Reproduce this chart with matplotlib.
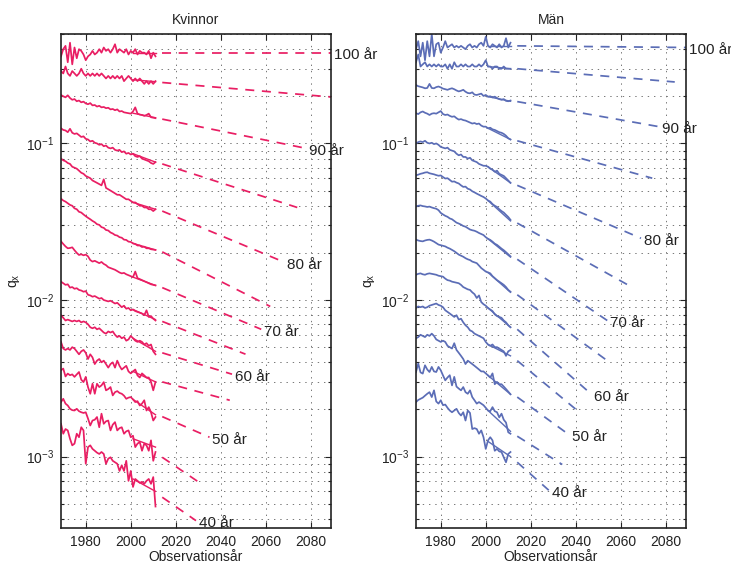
import matplotlib.pyplot as plt
import numpy as np
from matplotlib.ticker import LogLocator, NullFormatter

plt.rcParams['font.family'] = ['Liberation Sans', 'DejaVu Sans']
plt.rcParams['mathtext.default'] = 'regular'
plt.rcParams['lines.scale_dashes'] = False

# observation years
years = np.arange(1969, 2012)
ages = [40, 45, 50, 55, 60, 65, 70, 75, 80, 85, 90, 95, 100]

# ---- Kvinnor: observed q_x per age, 1969-2011 ----
kv40 = [0.00162, 0.00140, 0.00150, 0.00147, 0.00130, 0.00118, 0.00121, 0.00140, 0.00133, 0.00154,
        0.00147, 0.00090, 0.00115, 0.00118, 0.00112, 0.00109, 0.00106, 0.00104, 0.00107, 0.00104,
        0.00090, 0.00097, 0.00099, 0.00094, 0.00092, 0.00090, 0.00081, 0.00088, 0.00081, 0.00094,
        0.00070, 0.00081, 0.00064, 0.00072, 0.00070, 0.00068, 0.00069, 0.00067, 0.00070, 0.00072,
        0.00067, 0.00074, 0.00048]
kv45 = [0.00223, 0.00234, 0.00218, 0.00212, 0.00202, 0.00198, 0.00197, 0.00202, 0.00195, 0.00192,
        0.00190, 0.00192, 0.00175, 0.00158, 0.00170, 0.00172, 0.00179, 0.00154, 0.00188, 0.00162,
        0.00168, 0.00170, 0.00147, 0.00160, 0.00166, 0.00147, 0.00152, 0.00154, 0.00140, 0.00145,
        0.00147, 0.00133, 0.00136, 0.00115, 0.00121, 0.00124, 0.00109, 0.00121, 0.00118, 0.00109,
        0.00127, 0.00094, 0.00107]
kv50 = [0.00356, 0.00365, 0.00325, 0.00339, 0.00331, 0.00335, 0.00323, 0.00335, 0.00347, 0.00310,
        0.00299, 0.00323, 0.00278, 0.00252, 0.00292, 0.00252, 0.00292, 0.00278, 0.00285, 0.00299,
        0.00265, 0.00270, 0.00278, 0.00246, 0.00258, 0.00262, 0.00255, 0.00252, 0.00245, 0.00234,
        0.00238, 0.00240, 0.00232, 0.00223, 0.00226, 0.00212, 0.00218, 0.00229, 0.00197, 0.00207,
        0.00192, 0.00170, 0.00179]
kv55 = [0.0054, 0.0049, 0.0048, 0.0049, 0.0048, 0.0050, 0.0049, 0.0047, 0.0045, 0.0047,
        0.0048, 0.0046, 0.0042, 0.0045, 0.0043, 0.0039, 0.0041, 0.0042, 0.0040, 0.0041,
        0.0039, 0.0037, 0.0039, 0.0040, 0.0037, 0.0041, 0.0038, 0.0036, 0.0037, 0.0038,
        0.0035, 0.0034, 0.0035, 0.0036, 0.0033, 0.0032, 0.0034, 0.0033, 0.0032, 0.0032,
        0.0030, 0.00265, 0.0030]
kv60 = [0.0080, 0.0077, 0.0074, 0.0075, 0.0074, 0.0073, 0.0074, 0.0073, 0.0074, 0.0072,
        0.0073, 0.0072, 0.0070, 0.0067, 0.0066, 0.0067, 0.0065, 0.0066, 0.0064, 0.0062,
        0.0061, 0.0063, 0.0062, 0.0063, 0.0060, 0.0058, 0.0059, 0.0057, 0.0058, 0.0055,
        0.0056, 0.0059, 0.0057, 0.0055, 0.0054, 0.0055, 0.0054, 0.0052, 0.0053, 0.0051,
        0.0052, 0.0047, 0.0045]
kv65 = [0.0131, 0.0128, 0.0125, 0.0126, 0.0120, 0.0121, 0.0118, 0.0119, 0.0116, 0.0115,
        0.0113, 0.0114, 0.0108, 0.0107, 0.0105, 0.0106, 0.0104, 0.0102, 0.0103, 0.0100,
        0.0099, 0.0098, 0.0099, 0.0097, 0.0095, 0.0096, 0.0093, 0.0090, 0.0092, 0.0088,
        0.0089, 0.0086, 0.0087, 0.0085, 0.0084, 0.0083, 0.0082, 0.0080, 0.0086, 0.0078,
        0.0079, 0.0076, 0.0074]
kv70 = [0.0237, 0.0228, 0.0220, 0.0214, 0.0215, 0.0217, 0.0208, 0.0200, 0.0194, 0.0196,
        0.0193, 0.0195, 0.0190, 0.0180, 0.0176, 0.0178, 0.0175, 0.0172, 0.0175, 0.0170,
        0.0167, 0.0162, 0.0160, 0.0158, 0.0156, 0.0153, 0.0150, 0.0148, 0.0149, 0.0146,
        0.0144, 0.0142, 0.0140, 0.0152, 0.0138, 0.0136, 0.0134, 0.0132, 0.0130, 0.0128,
        0.0126, 0.0125, 0.0124]
kv75 = [0.0444, 0.0432, 0.0425, 0.0415, 0.0405, 0.0400, 0.0385, 0.0380, 0.0366, 0.0362,
        0.0352, 0.0343, 0.0335, 0.0328, 0.0320, 0.0314, 0.0305, 0.0302, 0.0292, 0.0289,
        0.0280, 0.0278, 0.0270, 0.0266, 0.0260, 0.0258, 0.0252, 0.0250, 0.0243, 0.0242,
        0.0236, 0.0235, 0.0230, 0.0228, 0.0223, 0.0223, 0.0218, 0.0219, 0.0214, 0.0214,
        0.0211, 0.0210, 0.0209]
kv80 = [0.080, 0.078, 0.077, 0.075, 0.074, 0.071, 0.070, 0.069, 0.067, 0.065,
        0.064, 0.062, 0.061, 0.060, 0.058, 0.057, 0.056, 0.055, 0.054, 0.059,
        0.052, 0.051, 0.050, 0.049, 0.048, 0.047, 0.047, 0.046, 0.045, 0.044,
        0.044, 0.043, 0.042, 0.042, 0.041, 0.040, 0.040, 0.039, 0.039, 0.038,
        0.038, 0.037, 0.038]
kv85 = [0.125, 0.122, 0.121, 0.118, 0.124, 0.117, 0.115, 0.116, 0.113, 0.110,
        0.111, 0.107, 0.106, 0.103, 0.104, 0.101, 0.100, 0.098, 0.099, 0.096,
        0.097, 0.094, 0.093, 0.094, 0.091, 0.090, 0.091, 0.088, 0.089, 0.086,
        0.087, 0.085, 0.086, 0.083, 0.082, 0.083, 0.080, 0.079, 0.078, 0.077,
        0.075, 0.074, 0.076]
kv90 = [0.204, 0.200, 0.197, 0.203, 0.195, 0.190, 0.192, 0.186, 0.188, 0.183,
        0.185, 0.180, 0.178, 0.181, 0.175, 0.176, 0.172, 0.174, 0.170, 0.171,
        0.168, 0.169, 0.165, 0.166, 0.163, 0.165, 0.160, 0.161, 0.158, 0.157,
        0.156, 0.155, 0.160, 0.170, 0.155, 0.153, 0.152, 0.150, 0.152, 0.155,
        0.147, 0.146, 0.145]
kv95 = [0.29, 0.28, 0.31, 0.28, 0.27, 0.29, 0.28, 0.27, 0.28, 0.30,
        0.28, 0.27, 0.28, 0.27, 0.28, 0.27, 0.28, 0.27, 0.28, 0.27,
        0.26, 0.27, 0.26, 0.27, 0.26, 0.27, 0.26, 0.27, 0.25, 0.26,
        0.27, 0.26, 0.25, 0.26, 0.25, 0.26, 0.25, 0.24, 0.25, 0.24,
        0.25, 0.24, 0.25]
kv100 = [0.36, 0.40, 0.42, 0.33, 0.44, 0.32, 0.41, 0.35, 0.40, 0.39,
         0.37, 0.34, 0.36, 0.37, 0.39, 0.37, 0.38, 0.40, 0.38, 0.41,
         0.39, 0.40, 0.38, 0.40, 0.43, 0.38, 0.40, 0.39, 0.38, 0.40,
         0.37, 0.39, 0.38, 0.40, 0.37, 0.39, 0.38, 0.38, 0.37, 0.39,
         0.35, 0.38, 0.36]

# ---- Män: observed q_x per age, 1969-2011 ----
man40 = [0.00223, 0.00230, 0.00234, 0.00238, 0.00245, 0.00252, 0.00258, 0.00240, 0.00265, 0.00225,
         0.00218, 0.00229, 0.00213, 0.00215, 0.00205, 0.00197, 0.00192, 0.00197, 0.00202, 0.00190,
         0.00183, 0.00192, 0.00170, 0.00197, 0.00190, 0.00150, 0.00152, 0.00150, 0.00140, 0.00147,
         0.00133, 0.00112, 0.00127, 0.00133, 0.00127, 0.00109, 0.00112, 0.00108, 0.00107, 0.00099,
         0.00092, 0.00104, 0.00107]
man45 = [0.00347, 0.00393, 0.00345, 0.00339, 0.00383, 0.00360, 0.00347, 0.00374, 0.00350, 0.00347,
         0.00374, 0.00356, 0.00330, 0.00307, 0.00320, 0.00331, 0.00285, 0.00323, 0.00280, 0.00272,
         0.00265, 0.00278, 0.00258, 0.00252, 0.00265, 0.00240, 0.00229, 0.00218, 0.00223, 0.00218,
         0.00213, 0.00205, 0.00197, 0.00195, 0.00207, 0.00195, 0.00192, 0.00178, 0.00188, 0.00172,
         0.00165, 0.00143, 0.00140]
man50 = [0.0057, 0.0058, 0.0060, 0.0059, 0.0058, 0.0060, 0.0059, 0.0061, 0.0059, 0.0056,
         0.0055, 0.0054, 0.0055, 0.0054, 0.0051, 0.0050, 0.0049, 0.0053, 0.0048, 0.0046,
         0.0044, 0.0042, 0.0039, 0.0041, 0.0040, 0.0039, 0.0038, 0.0037, 0.0036, 0.0035,
         0.0035, 0.0034, 0.0033, 0.0032, 0.0034, 0.0029, 0.0030, 0.0029, 0.0029, 0.0028,
         0.0027, 0.0026, 0.0025]
man55 = [0.0089, 0.0091, 0.0090, 0.0091, 0.0089, 0.0090, 0.0092, 0.0093, 0.0094, 0.0095,
         0.0093, 0.0092, 0.0090, 0.0086, 0.0084, 0.0082, 0.0080, 0.0078, 0.0080, 0.0075,
         0.0076, 0.0072, 0.0069, 0.0067, 0.0064, 0.0063, 0.0061, 0.0060, 0.0059, 0.0058,
         0.0057, 0.0054, 0.0052, 0.0051, 0.0052, 0.0050, 0.0050, 0.0049, 0.0048, 0.0047,
         0.0044, 0.0047, 0.0048]
man60 = [0.0145, 0.0147, 0.0148, 0.0146, 0.0145, 0.0147, 0.0148, 0.0147, 0.0146, 0.0145,
         0.0143, 0.0142, 0.0141, 0.0137, 0.0134, 0.0133, 0.0131, 0.0130, 0.0129, 0.0128,
         0.0125, 0.0121, 0.0119, 0.0117, 0.0116, 0.0112, 0.0109, 0.0103, 0.0107, 0.0097,
         0.0094, 0.0092, 0.0089, 0.0087, 0.0085, 0.0081, 0.0079, 0.0078, 0.0077, 0.0074,
         0.0072, 0.0069, 0.0067]
man65 = [0.0243, 0.0240, 0.0238, 0.0237, 0.0240, 0.0242, 0.0243, 0.0240, 0.0236, 0.0231,
         0.0226, 0.0224, 0.0222, 0.0220, 0.0216, 0.0213, 0.0209, 0.0205, 0.0200, 0.0195,
         0.0192, 0.0189, 0.0185, 0.0182, 0.0180, 0.0176, 0.0174, 0.0172, 0.0166, 0.0160,
         0.0156, 0.0152, 0.0150, 0.0148, 0.0142, 0.0138, 0.0134, 0.0131, 0.0128, 0.0125,
         0.0121, 0.0116, 0.0113]
man70 = [0.0396, 0.0400, 0.0402, 0.0398, 0.0396, 0.0393, 0.0395, 0.0390, 0.0386, 0.0383,
         0.0375, 0.0360, 0.0352, 0.0345, 0.0340, 0.0332, 0.0328, 0.0320, 0.0312, 0.0308,
         0.0303, 0.0297, 0.0294, 0.0288, 0.0282, 0.0279, 0.0277, 0.0273, 0.0268, 0.0264,
         0.0260, 0.0252, 0.0246, 0.0242, 0.0236, 0.0229, 0.0225, 0.0219, 0.0213, 0.0208,
         0.0202, 0.0196, 0.0190]
man75 = [0.0626, 0.0632, 0.0640, 0.0645, 0.0652, 0.0655, 0.0645, 0.0640, 0.0635, 0.0628,
         0.0622, 0.0625, 0.0610, 0.0597, 0.0600, 0.0585, 0.0570, 0.0572, 0.0562, 0.0555,
         0.0540, 0.0528, 0.0530, 0.0514, 0.0508, 0.0495, 0.0487, 0.0478, 0.0470, 0.0462,
         0.0455, 0.0445, 0.0432, 0.0425, 0.0410, 0.0400, 0.0393, 0.0380, 0.0370, 0.0362,
         0.0350, 0.0339, 0.0325]
man80 = [0.100, 0.102, 0.103, 0.102, 0.104, 0.101, 0.100, 0.101, 0.099, 0.100,
         0.098, 0.095, 0.094, 0.093, 0.094, 0.091, 0.090, 0.089, 0.086, 0.084,
         0.085, 0.082, 0.082, 0.080, 0.081, 0.078, 0.077, 0.076, 0.074, 0.073,
         0.072, 0.072, 0.071, 0.069, 0.068, 0.066, 0.067, 0.064, 0.063, 0.062,
         0.060, 0.058, 0.056]
man85 = [0.156, 0.154, 0.158, 0.160, 0.157, 0.155, 0.152, 0.155, 0.156, 0.155,
         0.158, 0.161, 0.154, 0.152, 0.153, 0.150, 0.148, 0.149, 0.145, 0.142,
         0.143, 0.141, 0.140, 0.138, 0.136, 0.134, 0.135, 0.133, 0.134, 0.130,
         0.128, 0.128, 0.125, 0.126, 0.123, 0.122, 0.120, 0.118, 0.117, 0.115,
         0.112, 0.108, 0.106]
man90 = [0.236, 0.232, 0.230, 0.228, 0.225, 0.226, 0.240, 0.226, 0.225, 0.229,
         0.231, 0.228, 0.224, 0.222, 0.220, 0.223, 0.225, 0.222, 0.218, 0.215,
         0.217, 0.220, 0.214, 0.210, 0.209, 0.212, 0.205, 0.204, 0.206, 0.208,
         0.201, 0.204, 0.199, 0.200, 0.197, 0.199, 0.195, 0.192, 0.190, 0.192,
         0.187, 0.186, 0.188]
man95 = [0.33, 0.37, 0.31, 0.32, 0.33, 0.31, 0.32, 0.31, 0.32, 0.31,
         0.32, 0.31, 0.31, 0.32, 0.30, 0.32, 0.30, 0.33, 0.31, 0.31,
         0.32, 0.31, 0.32, 0.31, 0.31, 0.32, 0.31, 0.31, 0.32, 0.31,
         0.32, 0.34, 0.31, 0.31, 0.30, 0.31, 0.31, 0.30, 0.30, 0.31,
         0.30, 0.30, 0.30]
man100 = [0.40, 0.45, 0.36, 0.44, 0.34, 0.45, 0.36, 0.50, 0.36, 0.43,
          0.44, 0.38, 0.41, 0.45, 0.41, 0.42, 0.43, 0.41, 0.42, 0.41,
          0.42, 0.41, 0.40, 0.42, 0.43, 0.41, 0.42, 0.41, 0.43, 0.44,
          0.42, 0.48, 0.42, 0.41, 0.43, 0.42, 0.41, 0.43, 0.41, 0.42,
          0.47, 0.41, 0.44]

kv_obs = [kv40, kv45, kv50, kv55, kv60, kv65, kv70, kv75, kv80, kv85, kv90, kv95, kv100]
man_obs = [man40, man45, man50, man55, man60, man65, man70, man75, man80, man85, man90, man95, man100]

# fitted level in 2001 and 2011 (ages 40..100)
fit_years = [2001, 2011]
kv_fit_a = [0.00072, 0.00130, 0.00232, 0.0035, 0.0057, 0.0087, 0.0140, 0.0230, 0.042, 0.086, 0.156, 0.255, 0.38]
kv_fit_b = [0.00060, 0.00115, 0.00185, 0.0030, 0.0047, 0.0075, 0.0124, 0.0209, 0.038, 0.076, 0.146, 0.248, 0.38]
man_fit_a = [0.00125, 0.00197, 0.0033, 0.0052, 0.0089, 0.0150, 0.0246, 0.0432, 0.071, 0.125, 0.199, 0.31, 0.42]
man_fit_b = [0.00100, 0.00145, 0.0025, 0.0044, 0.0067, 0.0112, 0.0188, 0.032, 0.056, 0.106, 0.186, 0.30, 0.42]

# forecast: value in 2014 and at the last forecast year
fc_start = 2014
kv_fc0 = [0.00055, 0.00099, 0.0018, 0.0030, 0.0046, 0.0073, 0.0120, 0.0203, 0.037, 0.074, 0.143, 0.245, 0.38]
kv_fc1 = [0.00039, 0.00066, 0.00133, 0.00229, 0.00336, 0.00451, 0.0065, 0.0091, 0.0175, 0.039, 0.093, 0.198, 0.38]
kv_fc_year = [2029, 2032, 2035, 2044, 2045, 2051, 2058, 2062, 2068, 2074, 2078, 2089, 2089]
man_fc0 = [0.00092, 0.00135, 0.0024, 0.0041, 0.0065, 0.0108, 0.0182, 0.031, 0.054, 0.104, 0.185, 0.30, 0.42]
man_fc1 = [0.00061, 0.00089, 0.00138, 0.0019, 0.0025, 0.0041, 0.0074, 0.0123, 0.0248, 0.060, 0.128, 0.247, 0.41]
man_fc_year = [2028, 2034, 2037, 2042, 2047, 2054, 2054, 2064, 2069, 2074, 2077, 2084, 2089]

pink = '#E91E63'
blue = '#5B6DB6'

fig = plt.figure(figsize=(7.31, 5.63), dpi=100)
ax1 = fig.add_axes([61 / 731, 35 / 563, 270 / 731, 494 / 563])
ax2 = fig.add_axes([416 / 731, 35 / 563, 270 / 731, 494 / 563])


def draw_panel(ax, obs, fit0, fit1, fc0, fc1, fc_year, color, title):
    for i, age in enumerate(ages):
        ax.plot(years, obs[i], color=color, lw=1.25)
        ax.plot(fit_years, [fit0[i], fit1[i]], color=color, lw=1.0)
        ax.plot([fc_start, fc_year[i]], [fc0[i], fc1[i]], color=color, lw=1.25,
                dashes=(6.5, 5.5))
        if age % 10 == 0:
            ax.annotate(f'{age} år', (fc_year[i], fc1[i]), xytext=(2, -2),
                        textcoords='offset points', ha='left', va='center',
                        fontsize=11, color='#222222', annotation_clip=False)

    ax.set_yscale('log')
    ax.set_xlim(1969, 2089)
    ax.set_ylim(3.5e-4, 0.5)
    ax.set_xticks([1980, 2000, 2020, 2040, 2060, 2080])
    ax.yaxis.set_major_locator(LogLocator(base=10, numticks=10))
    ax.yaxis.set_minor_locator(LogLocator(base=10, subs=np.arange(2, 10), numticks=10))
    ax.yaxis.set_minor_formatter(NullFormatter())
    ax.grid(True, which='major', axis='x', color='#777777', ls=(0, (1, 3.5)), lw=0.7)
    ax.grid(True, which='both', axis='y', color='#777777', ls=(0, (1, 3.5)), lw=0.7)
    ax.tick_params(which='both', direction='in', top=True, right=True,
                   labelsize=10, width=0.8, pad=5, colors='#222222')
    ax.tick_params(which='major', length=4)
    ax.tick_params(which='minor', length=2.5)
    for s in ax.spines.values():
        s.set_linewidth(1.2)
        s.set_color('#222222')
    ax.set_title(title, fontsize=10, pad=7, color='#222222')
    ax.set_xlabel('Observationsår', fontsize=10, labelpad=1, color='#222222')
    ax.set_ylabel('q$_x$', fontsize=10, labelpad=3, color='#222222')


draw_panel(ax1, kv_obs, kv_fit_a, kv_fit_b, kv_fc0, kv_fc1, kv_fc_year, pink, 'Kvinnor')
draw_panel(ax2, man_obs, man_fit_a, man_fit_b, man_fc0, man_fc1, man_fc_year, blue, 'Män')

fig.savefig('out.png', dpi=100)
